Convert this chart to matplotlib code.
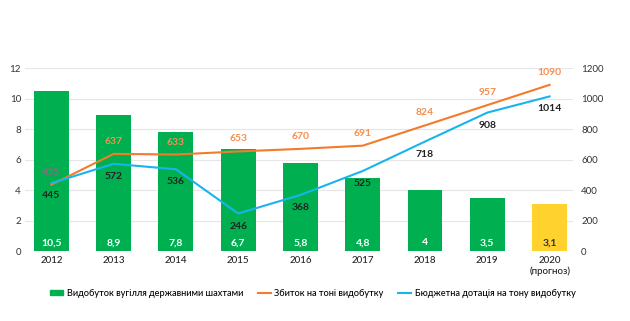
import matplotlib
matplotlib.use("Agg")
import matplotlib.pyplot as plt
from matplotlib.patches import Patch
from matplotlib.lines import Line2D

years = ["2012", "2013", "2014", "2015", "2016", "2017", "2018", "2019", "2020\n(прогноз)"]
production = [10.5, 8.9, 7.8, 6.7, 5.8, 4.8, 4.0, 3.5, 3.1]
production_labels = ["10,5", "8,9", "7,8", "6,7", "5,8", "4,8", "4", "3,5", "3,1"]
loss = [435, 637, 633, 653, 670, 691, 824, 957, 1090]
subsidy = [445, 572, 536, 246, 368, 525, 718, 908, 1014]

GREEN = "#00B050"
YELLOW = "#FFD22E"
ORANGE = "#F47A2C"
ORANGE_TXT = "#F58F52"
BLUE = "#18B4EC"

plt.rcParams['font.family'] = ['Lato', 'DejaVu Sans']

fig = plt.figure(figsize=(6.3, 3.21), dpi=100)
ax = fig.add_axes([0.04, 0.218, 0.869, 0.570])
x = list(range(len(years)))
colors = [GREEN] * 8 + [YELLOW]
ax.bar(x, production, width=0.56, color=colors, zorder=2)
ax.set_ylim(0, 12)
ax.set_xlim(-0.42, 8.37)
ax.set_yticks(range(0, 13, 2))
ax.grid(axis='y', color='#E6E6E6', linewidth=0.8, zorder=0)
ax.set_axisbelow(True)
for s in ax.spines.values():
    s.set_visible(False)
ax.tick_params(axis='both', length=0, labelsize=7, colors='#333333')
ax.tick_params(axis='y', pad=3)
ax.set_xticks(x)
ax.set_xticklabels(years, fontsize=7, color='#222222', fontweight='medium')
for i, (v, lab) in enumerate(zip(production, production_labels)):
    ax.text(i, 0.55, lab, ha='center', va='center', fontsize=7.5, fontweight='bold',
            color='#333333' if i == 8 else 'white', zorder=5)

ax2 = ax.twinx()
ax2.set_ylim(0, 1200)
ax2.set_yticks(range(0, 1201, 200))
for s in ax2.spines.values():
    s.set_visible(False)
ax2.tick_params(axis='y', length=0, labelsize=7, colors='#333333', pad=6)
ax2.plot(x, loss, color=ORANGE, linewidth=1.5, zorder=3)
ax2.plot(x, subsidy, color=BLUE, linewidth=1.5, zorder=3)
for i in x:
    c = '#777777' if i == 0 else ORANGE_TXT
    ax2.annotate(str(loss[i]), (i, loss[i]), xytext=(0, 9), textcoords='offset points',
                 ha='center', va='center', fontsize=7.5, fontweight='bold', color=c)
    ax2.annotate(str(subsidy[i]), (i, subsidy[i]), xytext=(0, -9), textcoords='offset points',
                 ha='center', va='center', fontsize=7.5, fontweight='bold', color='#222222')

handles = [Patch(color=GREEN), Line2D([], [], color=ORANGE, lw=1.5), Line2D([], [], color=BLUE, lw=1.5)]
labels = ["Видобуток вугілля державними шахтами", "Збиток на тоні видобутку",
          "Бюджетна дотація на тону видобутку"]
fig.legend(handles, labels, loc='center', bbox_to_anchor=(0.497, 0.087), ncol=3, frameon=False,
           fontsize=6.6, handlelength=1.4, handleheight=0.5, columnspacing=1.6, handletextpad=0.4,
           prop={'size': 6.6, 'weight': 'medium'})

fig.savefig("out.png", dpi=100)
